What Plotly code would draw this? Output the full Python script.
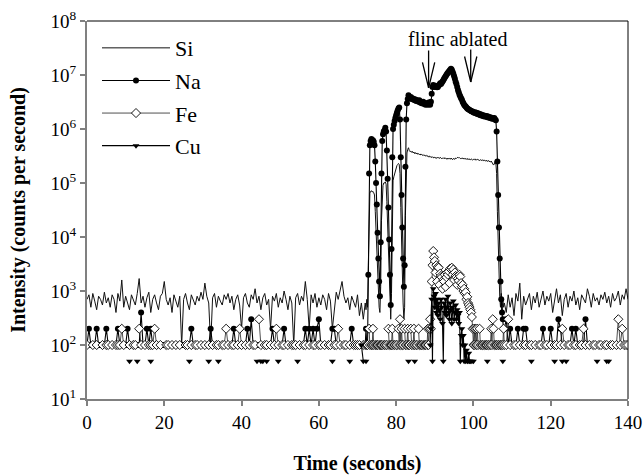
import plotly.graph_objects as go

N = None

# ---------------- time grid (seconds) ----------------
time_pre = [round(0.5 * i, 2) for i in range(144)]        # 0 .. 71.5
time_abl = [round(72 + 0.2 * i, 2) for i in range(180)]   # 72 .. 107.8
time_post = [round(108 + 0.5 * i, 2) for i in range(65)]  # 108 .. 140
time_s = time_pre + time_abl + time_post

# ---------------- Si ----------------
si_pre = [
    700, 850, 500, 900, 650, 450, 800, 700, 550, 950, 600, 750,
    500, 850, 700, 400, 900, 650, 1600, 500, 800, 600, 450, 850,
    700, 550, 900, 1700, 600, 800, 500, 750, 950, 400, 700, 850,
    600, 450, 800, 900, 1500, 700, 550, 750, 400, 850, 650, 500,
    800, 100, 700, 900, 600, 450, 850, 700, 550, 800, 650, 950,
    700, 1400, 800, 600, 100, 750, 900, 500, 800, 650, 550, 850,
    700, 900, 600, 800, 450, 700, 850, 550, 200, 750, 900, 600,
    500, 850, 700, 1100, 600, 800, 450, 750, 900, 550, 700, 200,
    800, 650, 900, 500, 750, 600, 1000, 700, 450, 800, 600, 100,
    750, 900, 550, 800, 650, 1500, 700, 200, 850, 600, 900, 500,
    750, 550, 850, 700, 450, 900, 650, 200, 500, 950, 700, 1100,
    1500, 800, 600, 750, 450, 800, 650, 500, 850, 350, 600, 300,
]
si_abl = [
    600, 450, 700, 500, 3000, 40000, 65000, 70000, 72000, 68000,
    70000, 66000, 60000, 30000, 12000, 5000, 1500, 700, 500, 400,
    1200, 20000, 70000, 90000, 100000, 100000, 105000, 95000, 45000, 14000,
    4000, 1200, 500, 300, 900, 35000, 110000, 130000, 150000, 170000,
    190000, 210000, 220000, 230000, 220000, 150000, 35000, 7000, 1800, 600,
    300, 500, 25000, 180000, 360000, 420000, 450000, 400000, 380000, 390000,
    370000, 385000, 360000, 375000, 350000, 365000, 345000, 360000, 340000, 350000,
    335000, 345000, 330000, 340000, 325000, 335000, 320000, 330000, 315000, 325000,
    310000, 320000, 305000, 315000, 300000, 310000, 295000, 305000, 300000, 290000,
    300000, 295000, 285000, 300000, 290000, 295000, 285000, 300000, 290000, 280000,
    290000, 285000, 295000, 280000, 290000, 285000, 275000, 290000, 280000, 285000,
    275000, 290000, 280000, 270000, 285000, 280000, 275000, 290000, 285000, 295000,
    300000, 290000, 295000, 285000, 280000, 290000, 285000, 275000, 280000, 285000,
    280000, 275000, 285000, 270000, 280000, 275000, 270000, 280000, 275000, 265000,
    275000, 270000, 280000, 265000, 270000, 275000, 265000, 270000, 260000, 270000,
    265000, 260000, 270000, 255000, 265000, 260000, 255000, 265000, 250000, 260000,
    255000, 250000, 245000, 255000, 240000, 230000, 215000, 225000, 250000, 240000,
    150000, 30000, 7000, 2000, 800, 500, 900, 400, 700, 500,
]
si_post = [
    600, 400, 850, 500, 750, 350, 900, 650, 1400, 300, 800, 550,
    700, 900, 450, 800, 600, 950, 500, 750, 1000, 550, 800, 650,
    900, 400, 750, 1100, 600, 850, 350, 700, 900, 500, 800, 650,
    1000, 550, 750, 450, 850, 700, 600, 1100, 800, 500, 900, 650,
    750, 550, 850, 700, 950, 600, 800, 500, 900, 650, 750, 1000,
    550, 850, 700, 1100, 700,
]

# ---------------- Na ----------------
na_pre = [
    100, 200, 100, 100, 100, 200, 100, 100, 100, 100, 200, 100,
    100, 100, 100, 100, 200, 100, 100, 100, 100, 200, 100, 100,
    100, 100, 100, 100, 400, 100, 100, 200, 100, 200, 100, 100,
    100, 100, 100, 100, 100, 100, 100, 100, 100, 100, 100, 100,
    100, 100, 100, 100, 100, 100, 200, 100, 100, 100, 100, 100,
    100, 100, 100, 100, 200, 100, 100, 100, 100, 100, 100, 100,
    100, 100, 100, 100, 200, 100, 100, 100, 100, 100, 100, 200,
    100, 300, 100, 100, 100, 100, 100, 100, 100, 100, 100, 100,
    200, 100, 100, 100, 100, 100, 200, 100, 100, 100, 100, 100,
    100, 100, 100, 100, 100, 200, 100, 200, 100, 200, 100, 200,
    300, 100, 100, 100, 100, 100, 100, 200, 200, 100, 100, 100,
    100, 100, 100, 100, 100, 200, 100, 100, 100, 100, 100, 100,
]
na_abl = [
    100, 200, 100, 100, 2000, 150000, 500000, 600000, 650000, 600000,
    620000, 580000, 500000, 250000, 100000, 40000, 12000, 4000, 1500, 800,
    8000, 150000, 600000, 800000, 900000, 950000, 1050000, 900000, 400000, 120000,
    35000, 9000, 2000, 550, 6000, 300000, 1000000, 1200000, 1400000, 1600000,
    1800000, 2000000, 2200000, 2400000, 2500000, 1500000, 300000, 60000, 15000, 4000,
    1200, 3000, 200000, 1500000, 3000000, 3600000, 4200000, 3800000, 3700000, 3900000,
    3600000, 3700000, 3500000, 3600000, 3400000, 3500000, 3300000, 3400000, 3300000, 3200000,
    3400000, 3100000, 3200000, 3000000, 3100000, 3200000, 2900000, 3000000, 2800000, 3000000,
    2900000, 2800000, 3100000, 2900000, 2800000, 3200000, 4500000, 6000000, 6500000, 6200000,
    6000000, 6300000, 6100000, 5900000, 6000000, 6400000, 6600000, 7000000, 6800000, 7200000,
    7600000, 8000000, 8500000, 9000000, 9500000, 10000000, 10500000, 11000000, 11500000, 12000000,
    12500000, 13000000, 12500000, 11500000, 10500000, 9500000, 8500000, 7500000, 6800000, 6000000,
    5300000, 4800000, 4300000, 4000000, 3700000, 3500000, 3200000, 3000000, 2800000, 2700000,
    2600000, 2500000, 2400000, 2350000, 2300000, 2250000, 2200000, 2150000, 2100000, 2100000,
    2050000, 2000000, 2050000, 1950000, 2000000, 1900000, 1950000, 1850000, 1900000, 1800000,
    1850000, 1800000, 1750000, 1800000, 1700000, 1750000, 1700000, 1750000, 1650000, 1700000,
    1650000, 1600000, 1650000, 1600000, 1550000, 1600000, 1550000, 1600000, 1500000, 1450000,
    900000, 250000, 60000, 15000, 4000, 1500, 700, 400, 300, 200,
]
na_post = [
    200, 300, 100, 200, 100, 100, 100, 200, 100, 100, 200, 200,
    100, 100, 100, 100, 100, 100, 100, 100, 200, 100, 100, 100,
    200, 100, 100, 100, 300, 200, 100, 100, 100, 100, 100, 200,
    100, 200, 100, 100, 100, 100, 300, 100, 100, 100, 100, 100,
    100, 100, 100, 100, 100, 100, 100, 100, 100, 100, 100, 100,
    100, 100, 100, 100, 100,
]

# ---------------- Fe ----------------
fe_pre = [
    100, N, N, 100, N, 100, N, N, 100, N, 100, 100,
    N, 100, N, 100, 100, 100, 200, 100, N, N, 100, N,
    100, 100, N, 200, 100, N, 100, N, 100, 100, 100, 200,
    100, N, 100, N, N, 100, 100, N, 100, N, 100, N,
    100, N, N, 100, 100, N, 100, N, 100, 100, N, 100,
    N, 100, N, 100, N, 100, N, 100, 100, N, 100, 100,
    200, 100, N, 100, 100, N, 100, 200, 100, N, 100, N,
    100, N, 100, 100, N, 300, 100, N, 100, 100, N, 100,
    N, 100, 200, 100, N, 100, 100, N, 100, N, 100, 100,
    100, N, 100, N, 100, 100, N, 100, N, 100, 100, N,
    100, 100, N, 100, N, 100, 100, N, 100, 100, 200, 100,
    N, 100, 100, N, 100, N, 100, 100, 100, 100, N, 100,
]
fe_abl = [
    100, N, 100, 100, N, 200, 100, N, 100, 100,
    200, 100, N, 100, N, 100, 100, N, 100, N,
    100, 100, N, 100, N, 100, N, 100, 100, N,
    200, 100, N, 100, 100, 200, 100, N, 100, N,
    100, 100, N, 200, 100, 300, 100, 200, 100, 100,
    N, 200, 100, N, 100, 200, 100, 100, N, 200,
    100, N, 100, 200, 100, N, 100, 100, N, 200,
    100, N, 100, 100, N, 100, N, 100, 100, N,
    100, 200, 100, 200, 300, 200, 1500, 3000, 5500, 4200,
    3600, 2200, 3000, 1500, 2800, 2700, 1300, 2100, 1900, 1800,
    1100, 1600, 1500, 2000, 1200, 1800, 2200, 2000, 2300, 1400,
    2600, 2500, 2700, 2000, 2500, 1600, 2200, 1900, 1800, 1300,
    1700, 1550, 2000, 1850, 1400, 1200, 1300, 1000, 1100, 900,
    950, 700, 780, 600, 550, 500, 450, 400, 330, 200,
    100, 200, 100, 200, 100, 200, 100, N, 200, 100,
    N, 100, 100, N, 100, N, 100, 100, N, 100,
    100, N, 100, 200, 100, 300, 200, 100, N, 100,
    100, N, 100, 100, N, 100, 100, N, 100, 200,
]
fe_post = [
    100, 100, 300, 100, N, 100, 100, N, 100, N, 100, 100,
    N, 100, 100, N, 100, N, 100, 100, N, 100, 100, N,
    100, N, 100, 100, N, 100, 200, 100, N, 100, 100, N,
    100, 100, N, 100, 100, 200, 100, N, 100, N, 100, 100,
    N, 100, 100, N, 100, 100, N, 100, 100, N, 100, 300,
    100, 200, 100, 100, 100,
]

# ---------------- Cu ----------------
cu_pre = (
    [N] * 12
    + [N] * 10 + [50, N]
    + [N, N, 50, N, N, N, N, N, N, 50, N, N]
    + [N] * 12
    + [N, N, N, N, N, 50, N, N, N, N, N, N]
    + [N, N, N, 50, N, N, N, N, 50, N, N, N]
    + [N] * 12
    + [N, N, N, N, 50, N, 50, 50, N, 50, N, N]
    + [N, N, N, 50, N, N, N, N, N, N, N, N]
    + [N, 50] + [N] * 10
    + [N, N, N, N, N, N, N, 50, N, N, N, N]
    + [N, N, N, N, 50, N, N, N, N, N, 100, 50]
)
cu_abl = (
    [N, 50] + [N] * 8
    + [N] * 40
    + [N, N, N, N, N, N, 50, N, N, N]
    + [N, N, N, N, 50, N, N, N, N, N]
    + [N] * 10
    + [N, N, N, N, 100, 200, 700, 50, 1100, 800]
    + [500, 900, 400, 700, 350, 600, 450, 300, 700, 500]
    + [250, 50, 600, 400, 700, 350, 500, 800, 400, 300]
    + [600, 450, 250, 500, 650, 300, 400, 550, 300, 450]
    + [350, 250, 400, 50, 150, 200, 100, 150, 50, 100]
    + [50, 80, 50, 50, 70, 50, 50, N, 50, N]
    + [50] + [N] * 9
    + [N, N, N, N, N, N, N, N, 50, N]
    + [N] * 10
    + [N, N, N, N, N, N, N, N, 50, N]
)
cu_post = (
    [N] * 12
    + [N, N, 50] + [N] * 9
    + [N, N, 50, N, N, N, 50, N, 50, N, N, N]
    + [N] * 12
    + [50, N, N, N, N, 50, 50, N, N, N, N, N]
    + [N] * 5
)

si = si_pre + si_abl + si_post
na = na_pre + na_abl + na_post
fe = fe_pre + fe_abl + fe_post
cu = cu_pre + cu_abl + cu_post
for s in (si, na, fe, cu):
    assert len(s) == len(time_s), len(s)

# ---------------- axis tick labels ----------------
x_ticks = [0, 20, 40, 60, 80, 100, 120, 140]
y_ticks = [1e1, 1e2, 1e3, 1e4, 1e5, 1e6, 1e7, 1e8]
y_tick_text = ["10<sup>%d</sup>" % k for k in range(1, 9)]

SERIF = "Liberation Serif, Times New Roman, serif"

fig = go.Figure()
fig.add_trace(go.Scatter(
    x=time_s, y=si, name="Si", mode="lines", legendgroup="si",
    line=dict(color="#111111", width=1.0),
))
fig.add_trace(go.Scatter(
    x=time_s, y=na, name="Na", mode="lines+markers", legendgroup="na",
    line=dict(color="black", width=1.1),
    marker=dict(symbol="circle", size=6, color="black"),
))
fig.add_trace(go.Scatter(
    x=time_s, y=fe, name="Fe", mode="lines+markers", legendgroup="fe",
    line=dict(color="#222", width=0.8),
    marker=dict(symbol="diamond", size=7, color="white",
                line=dict(color="black", width=0.9)),
))
fig.add_trace(go.Scatter(
    x=time_s, y=cu, name="Cu", mode="lines+markers", legendgroup="cu",
    line=dict(color="black", width=1.1),
    marker=dict(symbol="triangle-down", size=6, color="black"),
))

axis_common = dict(
    showgrid=False, zeroline=False, showline=True, automargin=False,
    linecolor="#808080", linewidth=2, ticklabeloverflow="allow",
    ticks="outside", ticklen=5, tickwidth=1.5, tickcolor="#808080",
    tickfont=dict(family=SERIF, size=19, color="black"),
)

fig.update_xaxes(
    range=[0, 140], tickvals=x_ticks, **axis_common,
    title=dict(text="<b>Time (seconds)</b>", standoff=25,
               font=dict(family=SERIF, size=20, color="black")),
)
fig.update_yaxes(
    type="log", range=[1, 8], tickvals=y_ticks, ticktext=y_tick_text,
    **axis_common,
    title=dict(text="<b>Intensity (counts per second)</b>", standoff=20,
               font=dict(family=SERIF, size=20, color="black")),
)

# top / right frame
fig.add_shape(type="line", xref="paper", yref="paper", x0=0, x1=1, y0=1, y1=1,
              line=dict(color="black", width=1))
fig.add_shape(type="line", xref="paper", yref="paper", x0=1, x1=1, y0=0, y1=1,
              line=dict(color="black", width=1))

# "flinc ablated" label and arrows (annotation y in log10 units)
fig.add_annotation(x=95.9, y=7.66, text="flinc ablated", showarrow=False,
                   font=dict(family=SERIF, size=20, color="black"))
for ax_t, tip, shaft in ((88.4, 6.76, 39), (99.3, 6.87, 34)):
    for dx, dy in ((0, -shaft), (-6.5, -27), (6.5, -27)):
        fig.add_annotation(x=ax_t, y=tip, text="", showarrow=True,
                           arrowhead=0, arrowwidth=1.3, arrowcolor="black",
                           ax=dx, ay=dy, standoff=0)

fig.update_layout(
    width=644, height=475,
    margin=dict(l=87, r=16, t=21, b=76),
    paper_bgcolor="white", plot_bgcolor="white",
    font=dict(family=SERIF, color="black"),
    legend=dict(x=0.0185, y=0.984, xanchor="left", yanchor="top",
                bgcolor="rgba(0,0,0,0)", itemwidth=68, tracegroupgap=1,
                font=dict(family=SERIF, size=22, color="black")),
    showlegend=True,
)

fig.write_html(
    "out.html",
    config={"displayModeBar": False},
    post_script="document.body.style.margin='0';document.body.style.overflow='hidden';",
)
